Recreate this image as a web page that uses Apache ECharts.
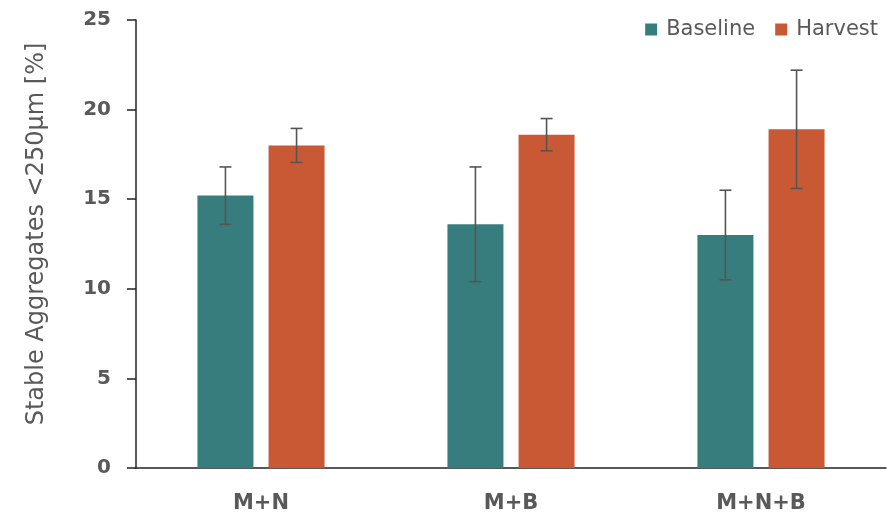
<!DOCTYPE html>
<html>
<head>
<meta charset="utf-8">
<script src="https://cdn.jsdelivr.net/npm/echarts@6/dist/echarts.min.js"></script>
<style>
  html, body { margin: 0; padding: 0; background: #fff; }
  #chart { width: 896px; height: 520px; }
</style>
</head>
<body>
<div id="chart"></div>
<script>
// Treatments and measured means with their error margins
const categories = ['M+N', 'M+B', 'M+N+B'];
const baselineValues = [15.2, 13.6, 13.0];
const baselineErrors = [1.6, 3.2, 2.5];
const harvestValues = [18.0, 18.6, 18.9];
const harvestErrors = [0.95, 0.9, 3.3];
const yTicks = [0, 5, 10, 15, 20, 25];

const FONT = '"DejaVu Sans", "Open Sans", sans-serif';
const TEXT_GREY = '#595959';
const TEAL = '#387d7d';
const ORANGE = '#c95935';
const BAR_W = 56;
const BAR_GAP = 0.27;
const HALF_SHIFT = (BAR_W + BAR_W * BAR_GAP) / 2;

function errorSeries(values, errors, shift) {
  return {
    type: 'custom',
    z: 10,
    silent: true,
    data: values.map((v, i) => [i, v - errors[i], v + errors[i]]),
    renderItem: function (params, api) {
      const lo = api.coord([api.value(0), api.value(1)]);
      const hi = api.coord([api.value(0), api.value(2)]);
      const x = lo[0] + shift;
      const cap = 6;
      const style = { stroke: '#555', lineWidth: 1.6 };
      return {
        type: 'group',
        children: [
          { type: 'line', shape: { x1: x, y1: hi[1], x2: x, y2: lo[1] }, style },
          { type: 'line', shape: { x1: x - cap, y1: hi[1], x2: x + cap, y2: hi[1] }, style },
          { type: 'line', shape: { x1: x - cap, y1: lo[1], x2: x + cap, y2: lo[1] }, style }
        ]
      };
    }
  };
}

const chart = echarts.init(document.getElementById('chart'));
chart.setOption({
  animation: false,
  textStyle: { fontFamily: FONT },
  grid: { left: 136, right: 10, top: 20, bottom: 52 },
  legend: {
    data: ['Baseline', 'Harvest'],
    right: 13,
    top: 14,
    icon: 'rect',
    itemWidth: 12,
    itemHeight: 12,
    itemGap: 20,
    textStyle: { fontFamily: FONT, fontSize: 21, color: TEXT_GREY, padding: [0, 0, 0, 4] }
  },
  xAxis: {
    type: 'category',
    data: categories,
    axisLine: { lineStyle: { color: '#222', width: 1.5 } },
    axisTick: { show: false },
    axisLabel: {
      margin: 25,
      fontFamily: FONT,
      fontSize: 21,
      fontWeight: 'bold',
      color: TEXT_GREY
    }
  },
  yAxis: {
    type: 'value',
    min: yTicks[0],
    max: yTicks[yTicks.length - 1],
    interval: 5,
    name: 'Stable Aggregates <250µm [%]',
    nameLocation: 'middle',
    nameGap: 87,
    nameTextStyle: { fontFamily: FONT, fontSize: 24, color: TEXT_GREY, padding: [0, 0, 0, 20] },
    splitLine: { show: false },
    axisLine: { show: true, lineStyle: { color: '#222', width: 1.5 } },
    axisTick: { show: true, length: 9, lineStyle: { color: '#222', width: 1.5 } },
    axisLabel: {
      margin: 25,
      fontFamily: FONT,
      fontSize: 20,
      fontWeight: 'bold',
      color: TEXT_GREY
    }
  },
  series: [
    {
      name: 'Baseline',
      type: 'bar',
      barWidth: BAR_W,
      barGap: (BAR_GAP * 100) + '%',
      itemStyle: { color: TEAL },
      data: baselineValues
    },
    {
      name: 'Harvest',
      type: 'bar',
      barWidth: BAR_W,
      barGap: (BAR_GAP * 100) + '%',
      itemStyle: { color: ORANGE },
      data: harvestValues
    },
    errorSeries(baselineValues, baselineErrors, -HALF_SHIFT),
    errorSeries(harvestValues, harvestErrors, HALF_SHIFT)
  ]
});
</script>
</body>
</html>
